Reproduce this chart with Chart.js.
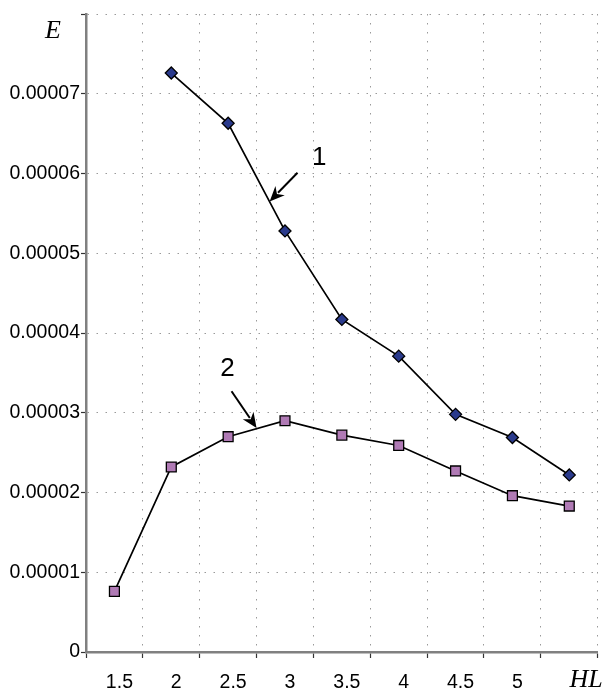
<!DOCTYPE html>
<html>
<head>
<meta charset="utf-8">
<script src="https://cdn.jsdelivr.net/npm/chart.js@4/dist/chart.umd.min.js"></script>
<style>
  html, body { margin: 0; padding: 0; background: #fff; }
  #wrap { width: 606px; height: 692px; position: relative; }
</style>
</head>
<body>
<div id="wrap"><canvas id="c"></canvas></div>
<script>
// Categories (HL values); last category label is replaced by the axis title "HL"
const categories = ['1.5', '2', '2.5', '3', '3.5', '4', '4.5', '5', ''];
// Series 1 (diamonds)
const series1 = [null, 7.26e-5, 6.63e-5, 5.28e-5, 4.17e-5, 3.71e-5, 2.98e-5, 2.69e-5, 2.22e-5];
// Series 2 (squares)
const series2 = [0.76e-5, 2.32e-5, 2.70e-5, 2.90e-5, 2.72e-5, 2.59e-5, 2.27e-5, 1.96e-5, 1.83e-5];
// Y tick labels (top tick replaced by the axis title "E")
const yTickLabels = ['0', '0.00001', '0.00002', '0.00003', '0.00004', '0.00005', '0.00006', '0.00007', ''];
const yMin = 0, yMax = 8e-5, yStep = 1e-5;
// Annotation texts and arrows (in category-index / value coordinates)
const annotLabels = [
  { text: '1', x: 3.60, y: 6.20e-5 },
  { text: '2', x: 1.99, y: 3.55e-5 }
];
const annotArrows = [
  { x0: 3.22, y0: 6.01e-5, x1: 2.73, y1: 5.65e-5 },
  { x0: 2.06, y0: 3.27e-5, x1: 2.50, y1: 2.81e-5 }
];
const xTitle = 'HL';
const yTitle = 'E';

const gridColor = '#9a9a9a';
const axisColor = '#808080';

const annotPlugin = {
  id: 'annot',
  afterDraw(chart) {
    const ctx = chart.ctx;
    const xs = chart.scales.x, ys = chart.scales.y;
    ctx.save();
    ctx.fillStyle = '#000';
    ctx.font = 'italic 26px "Liberation Serif", "Times New Roman", serif';
    ctx.textAlign = 'center';
    ctx.textBaseline = 'alphabetic';
    ctx.fillText(yTitle, 53, 38);
    ctx.fillText(xTitle, 586, 687);
    ctx.font = '26px "Liberation Sans", Arial, sans-serif';
    ctx.textBaseline = 'middle';
    annotLabels.forEach(l => {
      ctx.fillText(l.text, xs.getPixelForValue(l.x), ys.getPixelForValue(l.y));
    });
    ctx.strokeStyle = '#000';
    ctx.fillStyle = '#000';
    ctx.lineWidth = 2;
    annotArrows.forEach(a => {
      const x0 = xs.getPixelForValue(a.x0), y0 = ys.getPixelForValue(a.y0);
      const x1 = xs.getPixelForValue(a.x1), y1 = ys.getPixelForValue(a.y1);
      const ang = Math.atan2(y1 - y0, x1 - x0);
      const hl = 15, hw = 6.5;
      const bx = x1 - hl * Math.cos(ang), by = y1 - hl * Math.sin(ang);
      ctx.beginPath();
      ctx.moveTo(x0, y0);
      ctx.lineTo(bx + 3 * Math.cos(ang), by + 3 * Math.sin(ang));
      ctx.stroke();
      ctx.beginPath();
      ctx.moveTo(x1, y1);
      ctx.lineTo(bx + hw * Math.sin(ang), by - hw * Math.cos(ang));
      ctx.lineTo(bx + 0.3 * hl * Math.cos(ang), by + 0.3 * hl * Math.sin(ang));
      ctx.lineTo(bx - hw * Math.sin(ang), by + hw * Math.cos(ang));
      ctx.closePath();
      ctx.fill();
    });
    ctx.restore();
  }
};

new Chart(document.getElementById('c'), {
  type: 'line',
  data: {
    labels: categories,
    datasets: [
      {
        label: '1',
        data: series1,
        borderColor: '#000',
        borderWidth: 1.7,
        pointStyle: 'rectRot',
        pointRadius: 6,
        pointBackgroundColor: '#2a3a8c',
        pointBorderColor: '#000',
        pointBorderWidth: 1.3,
        tension: 0,
        spanGaps: false
      },
      {
        label: '2',
        data: series2,
        borderColor: '#000',
        borderWidth: 1.7,
        pointStyle: 'rect',
        pointRadius: 7,
        pointBackgroundColor: '#b07ab5',
        pointBorderColor: '#000',
        pointBorderWidth: 1.3,
        tension: 0
      }
    ]
  },
  options: {
    responsive: true,
    maintainAspectRatio: false,
    animation: false,
    layout: { padding: { top: 14, right: 3, left: 0, bottom: 0 } },
    plugins: { legend: { display: false }, tooltip: { enabled: false } },
    scales: {
      x: {
        type: 'category',
        offset: true,
        grid: {
          offset: true,
          color: gridColor,
          lineWidth: 1,
          tickLength: 6,
          tickColor: '#333',
          tickWidth: 1.2,
          tickBorderDash: [0, 0]
        },
        border: { display: true, color: axisColor, width: 2.5, dash: [1.5, 7.5] },
        ticks: {
          color: '#000',
          font: { family: '"Liberation Sans", Arial, sans-serif', size: 19.5 },
          padding: 13,
          labelOffset: 5,
          maxRotation: 0,
          autoSkip: false
        },
        afterFit(s) { s.height = 40; }
      },
      y: {
        min: yMin,
        max: yMax,
        grid: {
          color: gridColor,
          lineWidth: 1,
          tickLength: 5,
          tickColor: '#333',
          tickWidth: 1.2,
          tickBorderDash: [0, 0]
        },
        border: { display: true, color: axisColor, width: 2.5, dash: [1.5, 7.5] },
        ticks: {
          stepSize: yStep,
          color: '#000',
          font: { family: '"Liberation Sans", Arial, sans-serif', size: 19.5 },
          padding: 1,
          callback: (v, i) => yTickLabels[i]
        },
        afterFit(s) { s.width = 86; }
      }
    }
  },
  plugins: [annotPlugin]
});
</script>
</body>
</html>
